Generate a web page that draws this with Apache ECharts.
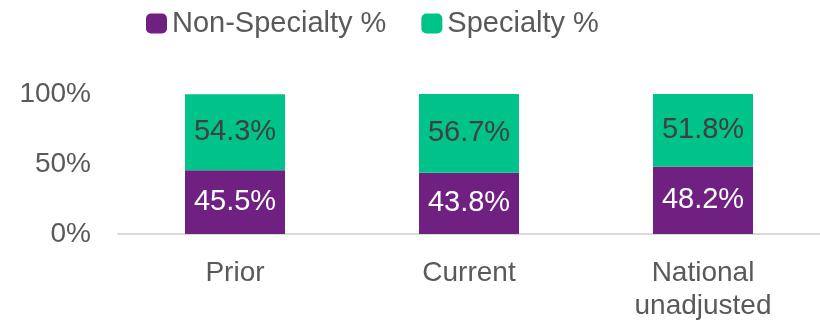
<!DOCTYPE html>
<html>
<head>
<meta charset="utf-8">
<script src="https://cdn.jsdelivr.net/npm/echarts@6/dist/echarts.min.js"></script>
<style>
  html, body { margin: 0; padding: 0; background: #fff; }
  #chart { width: 820px; height: 323px; }
</style>
</head>
<body>
<div id="chart"></div>
<script>
// Share of visits by specialty status
const categories = ['Prior', 'Current', 'National\nunadjusted'];
const nonSpecialty = [45.5, 43.8, 48.2];
const specialty = [54.3, 56.7, 51.8];
const yTicks = [0, 50, 100];

const FONT = '"Liberation Sans", Arial, sans-serif';
const GREY = '#595959';

const chart = echarts.init(document.getElementById('chart'));
chart.setOption({
  animation: false,
  textStyle: { fontFamily: FONT },
  legend: {
    left: 141,
    top: 4,
    itemWidth: 21,
    itemHeight: 20,
    itemGap: 35,
    icon: 'roundRect',
    textStyle: { fontFamily: FONT, fontSize: 29, color: GREY },
    data: ['Non-Specialty %', 'Specialty %']
  },
  grid: { left: 118, right: 0, top: 94, height: 140, containLabel: false },
  xAxis: {
    type: 'category',
    data: categories,
    axisLine: { lineStyle: { color: '#d9d9d9', width: 2 } },
    axisTick: { show: false },
    axisLabel: {
      fontFamily: FONT, fontSize: 28, color: GREY, margin: 23, lineHeight: 33
    }
  },
  yAxis: {
    type: 'value',
    min: 0,
    max: 100,
    interval: 50,
    splitLine: { show: false },
    axisLine: { show: false },
    axisTick: { show: false },
    axisLabel: {
      fontFamily: FONT, fontSize: 28, color: GREY, margin: 27,
      formatter: v => yTicks.includes(v) ? v + '%' : ''
    }
  },
  series: [
    {
      name: 'Non-Specialty %',
      type: 'bar',
      stack: 'share',
      barWidth: 100,
      data: nonSpecialty,
      itemStyle: { color: '#6f2080' },
      label: {
        show: true, position: 'inside', fontFamily: FONT, fontSize: 29,
        color: '#ffffff', formatter: p => p.value.toFixed(1) + '%'
      }
    },
    {
      name: 'Specialty %',
      type: 'bar',
      stack: 'share',
      barWidth: 100,
      data: specialty,
      clip: true,
      itemStyle: { color: '#00c389' },
      label: {
        show: true, position: 'inside', fontFamily: FONT, fontSize: 29,
        color: '#404040', formatter: p => p.value.toFixed(1) + '%'
      }
    }
  ]
});
</script>
</body>
</html>
